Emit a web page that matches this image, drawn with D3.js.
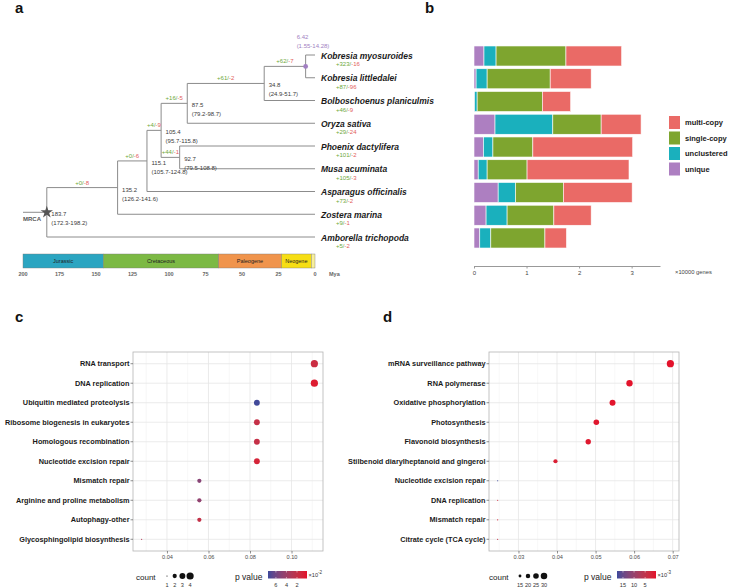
<!DOCTYPE html>
<html><head><meta charset="utf-8">
<script src="https://d3js.org/d3.v7.min.js"></script>
<style>html,body{margin:0;padding:0;background:#fff}svg text{font-family:"Liberation Sans",Arial,Helvetica,sans-serif}</style>
</head><body>
<svg id="chart" width="729" height="588"></svg>
<script>
// ---------------- DATA ----------------
// panel a : species (tips, top to bottom)
const species = ["Kobresia myosuroides","Kobresia littledalei","Bolboschoenus planiculmis","Oryza sativa","Phoenix dactylifera","Musa acuminata","Asparagus officinalis","Zostera marina","Amborella trichopoda"];
const speciesParent = ["n6","n6","n35","n87","n93","n93","n115","n135","root"];
const speciesGain = [323,87,46,29,101,105,73,9,5];
const speciesLoss = [16,96,9,24,2,3,2,1,2];
// internal nodes
const nodeNames  = ["root","n135","n115","n105","n87","n93","n35","n6"];
const nodeParent = [null,"root","n135","n115","n105","n105","n87","n35"];
const nodeAge    = [183.7,135.2,115.1,105.4,87.5,92.7,34.8,6.42];
const nodeCI     = ["(172.3-198.2)","(126.2-141.6)","(105.7-124.8)","(95.7-115.8)","(79.2-98.7)","(79.5-108.8)","(24.9-51.7)","(1.55-14.28)"];
const nodeGain   = [null,0,0,4,16,44,61,62];
const nodeLoss   = [null,8,6,9,5,1,2,7];
// geological periods
const eraNames  = ["Jurassic","Cretaceous","Paleogene","Neogene",""];
const eraStart  = [200,145,66,23,2.58];
const eraEnd    = [145,66,23,2.58,0];
const eraColors = ["#2ba5c1","#7cb944","#f0944c","#f6de14","#f8ef9a"];
const timeTicks = [200,175,150,125,100,75,50,25,0];

// panel b : gene categories (x10000 genes)
const uniqueGenes      = [0.19,0.04,0.01,0.40,0.18,0.08,0.46,0.23,0.11];
const unclusteredGenes = [0.23,0.21,0.05,1.10,0.18,0.17,0.33,0.40,0.21];
const singleCopyGenes  = [1.33,1.20,1.24,0.92,0.76,0.76,0.91,0.89,1.03];
const multiCopyGenes   = [1.06,0.78,0.54,0.76,1.90,1.94,1.31,0.71,0.41];
const geneTicks = [0,1,2,3];

// panel c
const pathwaysC = ["RNA transport","DNA replication","Ubiquitin mediated proteolysis","Ribosome biogenesis in eukaryotes","Homologous recombination","Nucleotide excision repair","Mismatch repair","Arginine and proline metabolism","Autophagy-other","Glycosphingolipid biosynthesis"];
const ratioC = [0.111,0.111,0.0833,0.0833,0.0833,0.0833,0.0556,0.0556,0.0556,0.0278];
const countC = [4,4,3,3,3,3,2,2,2,1];
const pvalC  = [1.6,0.5,7.4,1.9,1.9,1.0,5.0,4.6,2.0,3.0];   // x10^-2
const ticksC = [0.04,0.06,0.08,0.10];
const countLegendC = [1,2,3,4];
const pLegendC = [6,4,2];

// panel d
const pathwaysD = ["mRNA surveillance pathway","RNA polymerase","Oxidative phosphorylation","Photosynthesis","Flavonoid biosynthesis","Stilbenoid diarylheptanoid and gingerol","Nucleotide excision repair","DNA replication","Mismatch repair","Citrate cycle (TCA cycle)"];
const ratioD = [0.0694,0.0588,0.0544,0.0502,0.0481,0.0396,0.0246,0.0246,0.0246,0.0246];
const countD = [34,29,27,25,24,19,12,12,12,12];
const pvalD  = [0.2,0.3,0.4,0.6,0.8,1.5,17.7,2.5,2.0,4.5];   // x10^-3
const ticksD = [0.03,0.04,0.05,0.06,0.07];
const countLegendD = [15,20,25,30];
const pLegendD = [15,10,5];

// ---------------- DRAW ----------------
const svg = d3.select("#chart");
const GREEN = "#6ea83b", RED = "#e2605a", LINE = "#8c8c8c";

// panel letters
[["a",15,13],["b",425,13],["c",15,322],["d",383,322]].forEach(([t,x,y]) =>
  svg.append("text").attr("x",x).attr("y",y).attr("font-size",15).attr("font-weight","bold").attr("fill","#111").text(t));

// ---- panel a ----
const rowScale = d3.scaleBand().domain(species).range([44.625,249.375]).paddingInner(0.12).paddingOuter(0.06);
const rowC = s => rowScale(s) + rowScale.bandwidth()/2;
const xT = d3.scaleLinear().domain([200,0]).range([23,315]);

const treeRows = nodeNames.map((id,i)=>({id,parent:nodeParent[i],age:nodeAge[i],ci:nodeCI[i],gain:nodeGain[i],loss:nodeLoss[i]}))
  .concat(species.map((s,i)=>({id:s,parent:speciesParent[i],age:0,gain:speciesGain[i],loss:speciesLoss[i]})));
const root = d3.stratify().id(d=>d.id).parentId(d=>d.parent)(treeRows);
root.eachAfter(n => {
  n.px = xT(n.data.age);
  n.py = n.children ? (d3.min(n.children,c=>c.py)+d3.max(n.children,c=>c.py))/2 : rowC(n.id)-1;
});
const gT = svg.append("g");
root.descendants().filter(n=>n.children).forEach(n => {
  gT.append("line").attr("x1",n.px).attr("x2",n.px)
    .attr("y1",d3.min(n.children,c=>c.py)).attr("y2",d3.max(n.children,c=>c.py))
    .attr("stroke",LINE).attr("stroke-width",1);
});
root.descendants().forEach(n => {
  const x0 = n.parent ? n.parent.px : xT(200);
  gT.append("line").attr("x1",x0).attr("x2",n.px).attr("y1",n.py).attr("y2",n.py)
    .attr("stroke",LINE).attr("stroke-width",1);
});
// edge gain/loss on internal branches
root.descendants().filter(n=>n.parent && n.children).forEach(n => {
  const t = gT.append("text").attr("x",(n.parent.px+n.px)/2).attr("y",n.py-3)
    .attr("text-anchor","middle").attr("font-size",6);
  t.append("tspan").attr("fill",GREEN).text(`+${n.data.gain}/`);
  t.append("tspan").attr("fill",RED).text(`-${n.data.loss}`);
});
// node ages
root.descendants().filter(n=>n.children).forEach(n => {
  const young = n.data.age < 10;
  const x = young ? n.px - 9 : n.px + 4.5;
  const y = young ? n.py - 27 : n.py + 4;
  const fill = young ? "#a17fc2" : "#3a3a3a";
  gT.append("text").attr("x",x).attr("y",y).attr("font-size",6).attr("fill",fill).text(n.data.age);
  gT.append("text").attr("x",x).attr("y",y+9).attr("font-size",6).attr("fill",fill).text(n.data.ci);
  if (young) gT.append("circle").attr("cx",n.px).attr("cy",n.py).attr("r",2.4).attr("fill","#a17fc2");
});
// root star + MRCA
gT.append("path").attr("d",d3.symbol(d3.symbolStar,48)()).attr("transform",`translate(${root.px},${root.py})`).attr("fill","#555");
gT.append("text").attr("x",xT(200)).attr("y",root.py+9).attr("font-size",6).attr("font-weight","bold").attr("fill","#555").text("MRCA");
// leaf labels
root.leaves().forEach(n => {
  gT.append("text").attr("x",321).attr("y",n.py+3.5).attr("font-size",8.5).attr("font-weight","bold")
    .attr("font-style","italic").attr("fill","#1a1a1a").text(n.id);
  const t = gT.append("text").attr("x",336).attr("y",n.py+11).attr("font-size",6);
  t.append("tspan").attr("fill",GREEN).text(`+${n.data.gain}/`);
  t.append("tspan").attr("fill",RED).text(`-${n.data.loss}`);
});
// period bar
const gE = svg.append("g");
eraNames.forEach((nm,i) => {
  gE.append("rect").attr("x",xT(eraStart[i])).attr("width",xT(eraEnd[i])-xT(eraStart[i]))
    .attr("y",254).attr("height",14).attr("fill",eraColors[i]).attr("stroke","#777").attr("stroke-width",0.4);
  if (nm) gE.append("text").attr("x",(xT(eraStart[i])+xT(eraEnd[i]))/2).attr("y",263.2)
    .attr("text-anchor","middle").attr("font-size",5.5).attr("fill","#222").text(nm);
});
gE.selectAll(".tt").data(timeTicks).join("text").attr("x",d=>xT(d)).attr("y",275.5)
  .attr("text-anchor","middle").attr("font-size",5.5).attr("font-weight","bold").attr("fill","#666").text(d=>d);
gE.append("text").attr("x",329).attr("y",275.5).attr("font-size",5.5).attr("font-weight","bold").attr("fill","#666").text("Mya");

// ---- panel b ----
const xB = d3.scaleLinear().domain([0,3.54]).range([474,660]);
const keysB = ["unique","unclustered","single-copy","multi-copy"];
const colB = d3.scaleOrdinal().domain(keysB).range(["#ad7fc1","#1ab0bd","#7ea52f","#ea6a66"]);
const bRows = species.map((s,i)=>({sp:s,"unique":uniqueGenes[i],"unclustered":unclusteredGenes[i],"single-copy":singleCopyGenes[i],"multi-copy":multiCopyGenes[i]}));
const stacked = d3.stack().keys(keysB)(bRows);
const gB = svg.append("g");
gB.selectAll("g.s").data(stacked).join("g").attr("class","s").attr("fill",d=>colB(d.key))
  .selectAll("rect").data(d=>d).join("rect")
  .attr("x",d=>xB(d[0])).attr("width",d=>Math.max(0,xB(d[1])-xB(d[0])))
  .attr("y",d=>rowScale(d.data.sp)).attr("height",rowScale.bandwidth())
  .attr("stroke","#fff").attr("stroke-width",0.6);
const axB = gB.append("g").attr("transform","translate(0,266)")
  .call(d3.axisBottom(xB).tickValues(geneTicks).tickSize(2.5).tickSizeOuter(0).tickPadding(2).tickFormat(d3.format("d")));
axB.select(".domain").attr("stroke","#999");
axB.selectAll(".tick line").attr("stroke","#999");
axB.selectAll("text").attr("font-size",6).attr("fill","#444").attr("font-family",null);
gB.append("text").attr("x",675).attr("y",274).attr("font-size",5.8).attr("fill","#444").text("\u00d710000 genes");
["multi-copy","single-copy","unclustered","unique"].forEach((k,i) => {
  const y = 116 + i*15.5;
  gB.append("rect").attr("x",669).attr("y",y).attr("width",11).attr("height",13).attr("fill",colB(k));
  gB.append("text").attr("x",685).attr("y",y+9).attr("font-size",7.5).attr("font-weight","bold").attr("fill","#1a1a1a").text(k);
});

// ---- panels c, d ----
function dotPanel(o) {
  const g = svg.append("g");
  const lo = d3.min(o.ratio), hi = d3.max(o.ratio), pad = (hi-lo)*0.05;
  const x = d3.scaleLinear().domain([lo-pad,hi+pad]).range([o.left,o.right]);
  const y = d3.scalePoint().domain(o.paths).range([o.top,o.bottom]).padding(0.6);
  const r = d3.scaleRadial().domain(o.countDom).range([0.6,3.6]);
  const pmin = o.pDom[0], pmax = o.pDom[1];
  const interp = d3.interpolateLab("#3d4a9c","#e4102a");
  const col = p => interp((pmax-p)/(pmax-pmin));
  // minor grid
  const step = o.ticks[1]-o.ticks[0];
  const minors = d3.range(o.ticks[0]-step/2, hi+pad, step).filter(v=>v>lo-pad && v<hi+pad);
  g.selectAll(".mn").data(minors).join("line").attr("x1",d=>x(d)).attr("x2",d=>x(d))
    .attr("y1",o.top).attr("y2",o.bottom).attr("stroke","#f2f2f2").attr("stroke-width",0.6);
  g.selectAll(".mj").data(o.ticks).join("line").attr("x1",d=>x(d)).attr("x2",d=>x(d))
    .attr("y1",o.top).attr("y2",o.bottom).attr("stroke","#e6e6e6").attr("stroke-width",0.8);
  g.selectAll(".hg").data(o.paths).join("line").attr("x1",o.left).attr("x2",o.right)
    .attr("y1",d=>y(d)).attr("y2",d=>y(d)).attr("stroke","#e6e6e6").attr("stroke-width",0.8);
  g.append("rect").attr("x",o.left).attr("y",o.top).attr("width",o.right-o.left).attr("height",o.bottom-o.top)
    .attr("fill","none").attr("stroke","#b5b5b5").attr("stroke-width",0.8);
  // y axis
  g.selectAll(".yt").data(o.paths).join("line").attr("x1",o.left-2.5).attr("x2",o.left)
    .attr("y1",d=>y(d)).attr("y2",d=>y(d)).attr("stroke","#444").attr("stroke-width",0.6);
  g.selectAll(".yl").data(o.paths).join("text").attr("x",o.left-3.5).attr("y",d=>y(d)+2.6)
    .attr("text-anchor","end").attr("font-size",7.3).attr("font-weight","bold").attr("fill","#1a1a1a").text(d=>d);
  // x axis
  const ax = g.append("g").attr("transform",`translate(0,${o.bottom})`)
    .call(d3.axisBottom(x).tickValues(o.ticks).tickSize(2.5).tickSizeOuter(0).tickPadding(2).tickFormat(d3.format(".2f")));
  ax.select(".domain").remove();
  ax.selectAll(".tick line").attr("stroke","#444").attr("stroke-width",0.6);
  ax.selectAll("text").attr("font-size",5.6).attr("fill","#4d4d4d").attr("font-family",null);
  // dots
  g.selectAll(".dt").data(o.paths).join("circle")
    .attr("cx",(d,i)=>x(o.ratio[i])).attr("cy",d=>y(d))
    .attr("r",(d,i)=>r(o.count[i])).attr("fill",(d,i)=>col(o.pval[i]));
  // count legend
  g.append("text").attr("x",o.countX).attr("y",579.5).attr("font-size",8).attr("fill","#222").text("count");
  o.countLeg.forEach((c,i) => {
    const cx = o.countX + 31 + i*o.legStep;
    g.append("circle").attr("cx",cx).attr("cy",576).attr("r",r(c)).attr("fill","#111");
    g.append("text").attr("x",cx).attr("y",587).attr("text-anchor","middle").attr("font-size",5.6).attr("fill","#333").text(c);
  });
  // p value colorbar
  g.append("text").attr("x",o.pX).attr("y",580).attr("font-size",8.5).attr("fill","#222").text("p value");
  const bx0 = o.pX + 33, bx1 = bx0 + 39;
  const gid = "grad" + o.id;
  const grad = svg.append("defs").append("linearGradient").attr("id",gid);
  d3.range(0,1.0001,0.1).forEach(t => grad.append("stop").attr("offset",t).attr("stop-color",interp(t)));
  g.append("rect").attr("x",bx0).attr("y",571).attr("width",39).attr("height",7.5).attr("fill",`url(#${gid})`);
  const cb = d3.scaleLinear().domain([pmax,pmin]).range([bx0,bx1]);
  o.pLeg.forEach(v => {
    g.append("line").attr("x1",cb(v)).attr("x2",cb(v)).attr("y1",571).attr("y2",572.5).attr("stroke","#fff").attr("stroke-width",0.5);
    g.append("line").attr("x1",cb(v)).attr("x2",cb(v)).attr("y1",577).attr("y2",578.5).attr("stroke","#fff").attr("stroke-width",0.5);
    g.append("text").attr("x",cb(v)).attr("y",587).attr("text-anchor","middle").attr("font-size",5.6).attr("fill","#333").text(v);
  });
  const sx = g.append("text").attr("x",bx1+1.5).attr("y",576.5).attr("font-size",5.6).attr("fill","#333").text("\u00d710");
  sx.append("tspan").attr("dy",-2.5).attr("font-size",4.5).text(o.exp);
}

dotPanel({id:"c",paths:pathwaysC,ratio:ratioC,count:countC,pval:pvalC,ticks:ticksC,
  left:133,right:323,top:352,bottom:551,countDom:[1,4],pDom:[0.1,7.5],
  countLeg:countLegendC,pLeg:pLegendC,countX:136,legStep:7.7,pX:235,exp:"-2"});
dotPanel({id:"d",paths:pathwaysD,ratio:ratioD,count:countD,pval:pvalD,ticks:ticksD,
  left:489,right:679,top:352,bottom:551,countDom:[12,34],pDom:[0.1,17.7],
  countLeg:countLegendD,pLeg:pLegendD,countX:489,legStep:8,pX:584,exp:"-3"});
</script>
</body></html>
